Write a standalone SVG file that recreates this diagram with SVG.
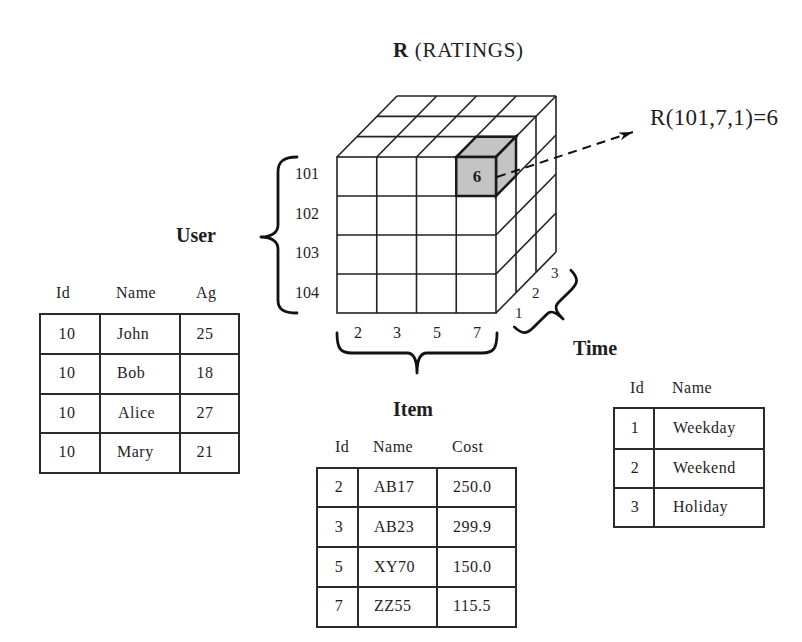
<svg xmlns="http://www.w3.org/2000/svg" width="802" height="642" viewBox="0 0 802 642">
<defs>
<style>
text{font-family:"Liberation Serif","Times New Roman",serif;fill:#1e1e1e}
.t{font-size:16px;letter-spacing:0.5px}
.lbl{font-size:20px;font-weight:bold}
.num{font-size:16px}
.mid{text-anchor:middle}
.cube line,.cube rect{stroke:#222;stroke-width:1.6;fill:none}
.cell{fill:#c4c4c4;stroke:#1a1a1a;stroke-width:2.5;stroke-linejoin:miter}
.brace{fill:none;stroke:#111;stroke-width:2.8;stroke-linecap:round;stroke-linejoin:round}
.tbl rect,.tbl line{stroke:#2a2a2a;stroke-width:2;fill:none}
</style>
<marker id="ah" viewBox="0 0 14 8" refX="14" refY="4" markerWidth="14" markerHeight="8" markerUnits="userSpaceOnUse" orient="auto">
<path d="M0,0 L14,4 L0,8 L4,4 z" fill="#111"/>
</marker>
</defs>
<rect x="0" y="0" width="802" height="642" fill="#fff"/>

<g id="title">
<text x="393" y="57" style="font-size:21px" textLength="130" lengthAdjust="spacing"><tspan font-weight="bold">R</tspan> (RATINGS)</text>
</g>

<g id="cube" class="cube">
<rect x="337" y="157" width="159" height="156"/>
<line x1="376.75" y1="157" x2="376.75" y2="313"/>
<line x1="416.5" y1="157" x2="416.5" y2="313"/>
<line x1="456.25" y1="157" x2="456.25" y2="313"/>
<line x1="337" y1="196" x2="496" y2="196"/>
<line x1="337" y1="235" x2="496" y2="235"/>
<line x1="337" y1="274" x2="496" y2="274"/>
<line x1="357" y1="136.67" x2="516" y2="136.67"/>
<line x1="377" y1="116.33" x2="536" y2="116.33"/>
<line x1="397" y1="96" x2="556" y2="96"/>
<line x1="337" y1="157" x2="397" y2="96"/>
<line x1="376.75" y1="157" x2="436.75" y2="96"/>
<line x1="416.5" y1="157" x2="476.5" y2="96"/>
<line x1="456.25" y1="157" x2="516.25" y2="96"/>
<line x1="496" y1="157" x2="556" y2="96"/>
<line x1="516" y1="136.67" x2="516" y2="292.67"/>
<line x1="536" y1="116.33" x2="536" y2="272.33"/>
<line x1="556" y1="96" x2="556" y2="252"/>
<line x1="496" y1="196" x2="556" y2="135"/>
<line x1="496" y1="235" x2="556" y2="174"/>
<line x1="496" y1="274" x2="556" y2="213"/>
<line x1="496" y1="313" x2="556" y2="252"/>
</g>

<g id="cell-101-7-1">
<polygon class="cell" points="456.25,157 496,157 516,136.67 476.25,136.67"/>
<polygon class="cell" points="496,157 516,136.67 516,175.67 496,196"/>
<rect class="cell" x="456.25" y="157" width="39.75" height="39"/>
<text x="477" y="182" class="mid" style="font-size:17px;font-weight:bold">6</text>
</g>

<g id="user-axis">
<path class="brace" d="M297,157 C283,157 278,162 278,172 L278,225 C278,232 272,237 261,237 C272,237 278,242 278,249 L278,300 C278,309 283,313 297,313"/>
<text x="295" y="179" class="num">101</text>
<text x="295" y="219" class="num">102</text>
<text x="295" y="258" class="num">103</text>
<text x="295" y="298" class="num">104</text>
<text x="176" y="242" class="lbl">User</text>
</g>

<g id="item-axis">
<path class="brace" d="M337,333 C337,348 340,353 352,353 L407,353 C413,353 417,358 417,373 C417,358 421,353 427,353 L482,353 C494,353 497,348 497,333"/>
<text x="358" y="338" class="num mid">2</text>
<text x="397" y="338" class="num mid">3</text>
<text x="437" y="338" class="num mid">5</text>
<text x="477" y="338" class="num mid">7</text>
<text x="393" y="416" class="lbl">Item</text>
</g>

<g id="time-axis">
<path class="brace" transform="translate(544,300) rotate(-45)" d="M-40,-2 C-40,10 -35,12 -27,12 L-8,12 C-3,12 0,15 0,27 C0,15 3,12 8,12 L27,12 C35,12 40,10 40,-2"/>
<text x="515" y="318" style="font-size:15px">1</text>
<text x="532" y="298" style="font-size:15px">2</text>
<text x="551" y="278" style="font-size:15px">3</text>
<text x="573" y="355" class="lbl">Time</text>
</g>

<g id="result-label">
<text x="650" y="125" style="font-size:23px" textLength="128" lengthAdjust="spacing">R(101,7,1)=6</text>
</g>

<g id="connectors">
<line x1="497" y1="177" x2="633" y2="132" stroke="#111" stroke-width="2" stroke-dasharray="9,6" marker-end="url(#ah)"/>
</g>

<g id="user-table" class="tbl">
<text x="56" y="298" class="t">Id</text>
<text x="116" y="298" class="t">Name</text>
<text x="196" y="298" class="t">Ag</text>
<rect x="40" y="314" width="199" height="159"/>
<line x1="100" y1="314" x2="100" y2="473"/>
<line x1="180" y1="314" x2="180" y2="473"/>
<line x1="40" y1="354" x2="239" y2="354"/>
<line x1="40" y1="394" x2="239" y2="394"/>
<line x1="40" y1="433" x2="239" y2="433"/>
<text x="67" y="339" class="t mid">10</text>
<text x="117" y="339" class="t">John</text>
<text x="205" y="339" class="t mid">25</text>
<text x="67" y="378" class="t mid">10</text>
<text x="117" y="378" class="t">Bob</text>
<text x="205" y="378" class="t mid">18</text>
<text x="67" y="418" class="t mid">10</text>
<text x="118" y="418" class="t">Alice</text>
<text x="205" y="418" class="t mid">27</text>
<text x="67" y="457" class="t mid">10</text>
<text x="117" y="457" class="t">Mary</text>
<text x="205" y="457" class="t mid">21</text>
</g>

<g id="item-table" class="tbl">
<text x="335" y="452" class="t">Id</text>
<text x="373" y="452" class="t">Name</text>
<text x="452" y="452" class="t">Cost</text>
<rect x="317" y="468" width="199" height="159"/>
<line x1="358" y1="468" x2="358" y2="627"/>
<line x1="437" y1="468" x2="437" y2="627"/>
<line x1="317" y1="507" x2="516" y2="507"/>
<line x1="317" y1="547" x2="516" y2="547"/>
<line x1="317" y1="587" x2="516" y2="587"/>
<text x="339" y="492" class="t mid">2</text>
<text x="374" y="492" class="t">AB17</text>
<text x="453" y="492" class="t">250.0</text>
<text x="339" y="532" class="t mid">3</text>
<text x="374" y="532" class="t">AB23</text>
<text x="453" y="532" class="t">299.9</text>
<text x="339" y="572" class="t mid">5</text>
<text x="374" y="572" class="t">XY70</text>
<text x="453" y="572" class="t">150.0</text>
<text x="339" y="611" class="t mid">7</text>
<text x="374" y="611" class="t">ZZ55</text>
<text x="453" y="611" class="t">115.5</text>
</g>

<g id="time-table" class="tbl">
<text x="630" y="393" class="t">Id</text>
<text x="672" y="393" class="t">Name</text>
<rect x="614" y="408" width="150" height="119"/>
<line x1="654" y1="408" x2="654" y2="527"/>
<line x1="614" y1="449" x2="764" y2="449"/>
<line x1="614" y1="488" x2="764" y2="488"/>
<text x="635" y="433" class="t mid">1</text>
<text x="673" y="433" class="t">Weekday</text>
<text x="635" y="473" class="t mid">2</text>
<text x="673" y="473" class="t">Weekend</text>
<text x="635" y="512" class="t mid">3</text>
<text x="673" y="512" class="t">Holiday</text>
</g>
</svg>
